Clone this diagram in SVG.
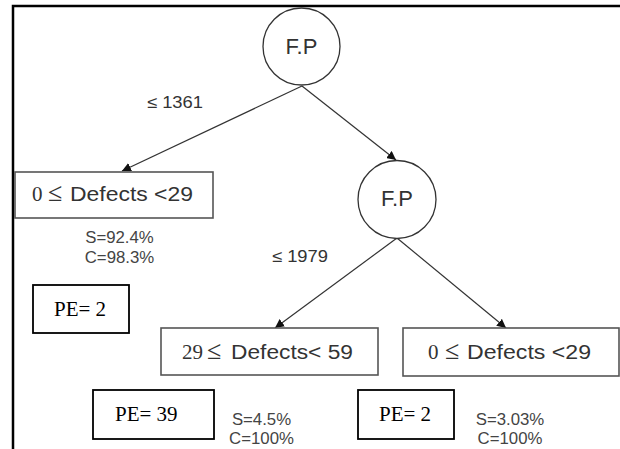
<svg xmlns="http://www.w3.org/2000/svg" width="620" height="449" viewBox="0 0 620 449">
<style>
.frame{fill:none;stroke:#000;stroke-width:2.5}
.node{fill:#fff;stroke:#333;stroke-width:1.3}
.leaf{fill:#fff;stroke:#555;stroke-width:1.6}
.pe{fill:#fff;stroke:#000;stroke-width:1.8}
.edge{fill:none;stroke:#333;stroke-width:1.2}
.sans{font-family:"Liberation Sans",Arial,sans-serif;fill:#333}
.serif{font-family:"Liberation Serif","Times New Roman",serif}
.fp{font-size:22px;text-anchor:middle}
.lbl{font-size:16.5px}
.leaftxt{font-size:20px}
.num{font-size:21px;fill:#333}
.le{font-size:26px;fill:#333}
.stat{font-size:16.8px;text-anchor:middle;fill:#444}
.petxt{font-size:21px;fill:#000}
</style>
<defs>
<marker id="arr" viewBox="0 0 10 10" refX="10" refY="5" markerWidth="9" markerHeight="9" markerUnits="userSpaceOnUse" orient="auto">
<path d="M0,0 L10,5 L0,10 z" fill="#111"/>
</marker>
</defs>
<rect width="620" height="449" fill="#fff"/>
<path class="frame" d="M13,449 L13,6 L620,6"/>
<g id="connectors">
<line class="edge" x1="302" y1="86" x2="122" y2="171" marker-end="url(#arr)"/>
<line class="edge" x1="302" y1="86" x2="396" y2="160" marker-end="url(#arr)"/>
<line class="edge" x1="397" y1="238" x2="275" y2="328" marker-end="url(#arr)"/>
<line class="edge" x1="397" y1="238" x2="506" y2="328" marker-end="url(#arr)"/>
<text class="sans lbl" x="147" y="108" textLength="56" lengthAdjust="spacingAndGlyphs">≤ 1361</text>
<text class="sans lbl" x="272" y="262" textLength="56" lengthAdjust="spacingAndGlyphs">≤ 1979</text>
</g>
<g id="root">
<circle class="node" cx="301.5" cy="46.5" r="38.5"/>
<text class="sans fp" x="301.5" y="53.5">F.P</text>
</g>
<g id="fp2">
<circle class="node" cx="397" cy="199.5" r="39"/>
<text class="sans fp" x="397" y="206">F.P</text>
</g>
<g id="leaf1">
<rect class="leaf" x="15" y="172" width="198" height="46"/>
<text class="serif num" x="32" y="201">0</text>
<text class="serif le" x="48" y="201">≤</text>
<text class="sans leaftxt" x="70" y="201" textLength="123" lengthAdjust="spacingAndGlyphs">Defects &lt;29</text>
<text class="sans stat" x="119.5" y="243">S=92.4%</text>
<text class="sans stat" x="119.5" y="263">C=98.3%</text>
</g>
<g id="pe1">
<rect class="pe" x="33" y="285" width="96" height="48"/>
<text class="serif petxt" x="54" y="316">PE= 2</text>
</g>
<g id="leaf2">
<rect class="leaf" x="161" y="328" width="217" height="47"/>
<text class="serif num" x="182" y="359">29</text>
<text class="serif le" x="207" y="359">≤</text>
<text class="sans leaftxt" x="231" y="359" textLength="122" lengthAdjust="spacingAndGlyphs">Defects&lt; 59</text>
<text class="sans stat" x="261.5" y="425">S=4.5%</text>
<text class="sans stat" x="261.5" y="444">C=100%</text>
</g>
<g id="pe2">
<rect class="pe" x="93" y="390" width="121" height="49"/>
<text class="serif petxt" x="115" y="421">PE= 39</text>
</g>
<g id="leaf3">
<rect class="leaf" x="403" y="328" width="216" height="48"/>
<text class="serif num" x="428" y="359">0</text>
<text class="serif le" x="445" y="359">≤</text>
<text class="sans leaftxt" x="467" y="359" textLength="124" lengthAdjust="spacingAndGlyphs">Defects &lt;29</text>
<text class="sans stat" x="510" y="425">S=3.03%</text>
<text class="sans stat" x="510" y="444">C=100%</text>
</g>
<g id="pe3">
<rect class="pe" x="358" y="390" width="96" height="49"/>
<text class="serif petxt" x="379" y="421">PE= 2</text>
</g>
</svg>
